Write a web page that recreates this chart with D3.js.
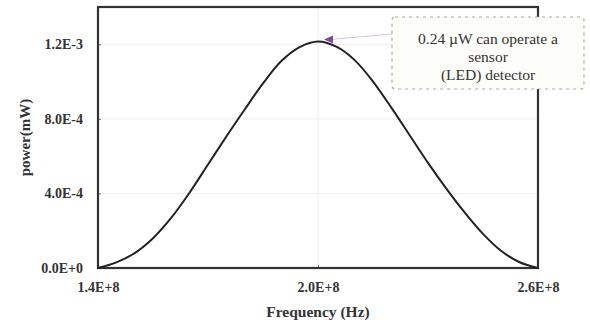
<!DOCTYPE html>
<html><head><meta charset="utf-8">
<script src="https://cdn.jsdelivr.net/npm/d3@7"></script>
<style>
html,body{margin:0;padding:0;background:#fff;}
svg{display:block;}
.serif{font-family:"Liberation Serif","Times New Roman","DejaVu Serif",serif;}
</style></head>
<body>
<script>
// Data
const frequency = [1.40e8,1.45e8,1.50e8,1.55e8,1.60e8,1.65e8,1.70e8,1.75e8,1.80e8,1.85e8,1.90e8,1.95e8,2.00e8,
                   2.05e8,2.10e8,2.15e8,2.20e8,2.25e8,2.30e8,2.35e8,2.40e8,2.45e8,2.50e8,2.55e8,2.60e8];
const power = [0, 0.030e-3, 0.080e-3, 0.160e-3, 0.270e-3, 0.405e-3, 0.555e-3, 0.705e-3, 0.850e-3, 0.990e-3, 1.110e-3, 1.185e-3, 1.215e-3,
               1.187e-3, 1.115e-3, 1.000e-3, 0.860e-3, 0.712e-3, 0.564e-3, 0.426e-3, 0.298e-3, 0.183e-3, 0.091e-3, 0.031e-3, 0];
const xTicks = [1.4e8, 2.0e8, 2.6e8];
const xTickLabels = ["1.4E+8", "2.0E+8", "2.6E+8"];
const yTicks = [0, 4e-4, 8e-4, 1.2e-3];
const yTickLabels = ["0.0E+0", "4.0E-4", "8.0E-4", "1.2E-3"];
const annotationLines = ["0.24 \u00B5W can operate a", "sensor", "(LED) detector"];
const annotationPoint = [2.0e8, 1.215e-3];

const W = 590, H = 325;
const margin = {left: 98, right: 52, top: 7, bottom: 57};
const svg = d3.select("body").append("svg").attr("width", W).attr("height", H);

const x = d3.scaleLinear().domain([1.4e8, 2.6e8]).range([margin.left, W - margin.right]);
const y = d3.scaleLinear().domain([0, 1.4e-3]).range([H - margin.bottom, margin.top]);

// faint gridlines
svg.append("g").selectAll("line.gy").data(yTicks.slice(1)).join("line")
  .attr("x1", x(1.4e8)).attr("x2", x(2.6e8)).attr("y1", d => y(d)).attr("y2", d => y(d))
  .attr("stroke", "#eeeeee").attr("stroke-width", 1);
svg.append("g").selectAll("line.gx").data([2.0e8]).join("line")
  .attr("x1", d => x(d)).attr("x2", d => x(d)).attr("y1", y(0)).attr("y2", y(1.4e-3))
  .attr("stroke", "#eeeeee").attr("stroke-width", 1);

// axes
const yAxis = d3.axisLeft(y).tickValues(yTicks).tickFormat((d, i) => yTickLabels[i]).tickSize(-3).tickPadding(15);
const gy = svg.append("g").attr("transform", `translate(${margin.left},0)`).call(yAxis);
gy.select(".domain").remove();
gy.selectAll(".tick line").attr("stroke", "#777");
gy.selectAll("text").attr("class", "serif").attr("font-family", null).attr("font-weight", "bold").attr("font-size", 14).attr("fill", "#333");

const xAxis = d3.axisBottom(x).tickValues(xTicks).tickFormat((d, i) => xTickLabels[i]).tickSize(-3).tickPadding(14);
const gx = svg.append("g").attr("transform", `translate(0,${y(0)})`).call(xAxis);
gx.select(".domain").remove();
gx.selectAll(".tick line").attr("stroke", "#777");
gx.selectAll("text").attr("class", "serif").attr("font-family", null).attr("font-weight", "bold").attr("font-size", 14).attr("fill", "#333");
gy.attr("font-family", null); gx.attr("font-family", null);

// plot frame
svg.append("rect")
  .attr("x", x(1.4e8)).attr("y", y(1.4e-3))
  .attr("width", x(2.6e8) - x(1.4e8)).attr("height", y(0) - y(1.4e-3))
  .attr("fill", "none").attr("stroke", "#333").attr("stroke-width", 2.2);

// curve
const line = d3.line().x(d => x(d[0])).y(d => y(d[1])).curve(d3.curveCatmullRom.alpha(0.5));
svg.append("path").datum(frequency.map((f, i) => [f, power[i]]))
  .attr("d", line).attr("fill", "none").attr("stroke", "#222").attr("stroke-width", 2);

// axis titles
svg.append("text").attr("class", "serif").attr("x", x(2.0e8)).attr("y", 317).attr("text-anchor", "middle")
  .attr("font-weight", "bold").attr("font-size", 15.5).attr("fill", "#333")
  .text("Frequency (Hz)");
svg.append("text").attr("class", "serif").attr("transform", `translate(30,${y(7e-4)}) rotate(-90)`).attr("text-anchor", "middle")
  .attr("font-weight", "bold").attr("font-size", 15).attr("fill", "#333")
  .text("power(mW)");

// annotation callout
const box = {x: 392, y: 17, w: 192, h: 72};
const ax = x(annotationPoint[0]) + 6, ay = y(annotationPoint[1]) - 2;
svg.append("line").attr("x1", box.x).attr("y1", 34).attr("x2", ax + 6).attr("y2", ay)
  .attr("stroke", "#d9c3e3").attr("stroke-width", 1.2);
svg.append("path")
  .attr("d", `M${ax},${ay} L${ax + 9},${ay - 4} L${ax + 9},${ay + 4} Z`)
  .attr("fill", "#7b4a9c");
svg.append("rect").attr("x", box.x).attr("y", box.y).attr("width", box.w).attr("height", box.h)
  .attr("rx", 3).attr("fill", "#fdfdf9").attr("stroke", "#a9ad96").attr("stroke-width", 1.2)
  .attr("stroke-dasharray", "3,4");
const t = svg.append("text").attr("class", "serif").attr("text-anchor", "middle")
  .attr("font-size", 15.5).attr("fill", "#333");
annotationLines.forEach((s, i) => {
  t.append("tspan").attr("class", "serif").attr("x", box.x + box.w / 2).attr("y", 44 + i * 18).text(s);
});
</script>
</body></html>
